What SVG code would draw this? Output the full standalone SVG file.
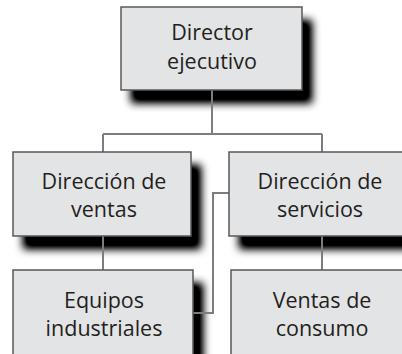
<svg xmlns="http://www.w3.org/2000/svg" width="402" height="354" viewBox="0 0 402 354">
<defs>
<filter id="sh" x="-20%" y="-20%" width="150%" height="160%">
<feGaussianBlur in="SourceAlpha" stdDeviation="4.5"/>
<feOffset dx="10" dy="13" result="b"/>
<feComponentTransfer><feFuncA type="linear" slope="1.25"/></feComponentTransfer>
</filter>
<style>
.box{fill:#e3e4e6;stroke:#58585a;stroke-width:1.5}
.shd{fill:#000;filter:url(#sh)}
.lbl{font-family:"Open Sans","Liberation Sans",sans-serif;font-size:21.5px;fill:#231f20;text-anchor:middle}
.con{fill:none;stroke:#7d7d80;stroke-width:2}
</style>
</defs>
<rect width="402" height="354" fill="#fff"/>
<g id="shadows">
<rect class="shd" x="121" y="7" width="181" height="83"/>
<rect class="shd" x="13" y="152" width="178" height="84"/>
<rect class="shd" x="229" y="152" width="190" height="84"/>
<rect class="shd" x="13" y="270" width="180" height="100"/>
<rect class="shd" x="231" y="270" width="190" height="100"/>
</g>
<g id="connectors">
<path class="con" d="M212 90V134M103 134H322M103 134V152M322 134V152M103 236V270M322 236V270"/>
<path class="con" d="M229 193H213V313H193"/>
</g>
<g id="n-director">
<rect class="box" x="121" y="7" width="181" height="83"/>
<text class="lbl" x="212" y="40">Director</text>
<text class="lbl" x="212" y="69">ejecutivo</text>
</g>
<g id="n-ventas">
<rect class="box" x="13" y="152" width="178" height="84"/>
<text class="lbl" x="104" y="189">Dirección de</text>
<text class="lbl" x="104" y="217">ventas</text>
</g>
<g id="n-servicios">
<rect class="box" x="229" y="152" width="190" height="84"/>
<text class="lbl" x="320" y="189">Dirección de</text>
<text class="lbl" x="320" y="217">servicios</text>
</g>
<g id="n-equipos">
<rect class="box" x="13" y="270" width="180" height="100"/>
<text class="lbl" x="104" y="308">Equipos</text>
<text class="lbl" x="104" y="336">industriales</text>
</g>
<g id="n-consumo">
<rect class="box" x="231" y="270" width="190" height="100"/>
<text class="lbl" x="322" y="308">Ventas de</text>
<text class="lbl" x="322" y="336">consumo</text>
</g>
</svg>
